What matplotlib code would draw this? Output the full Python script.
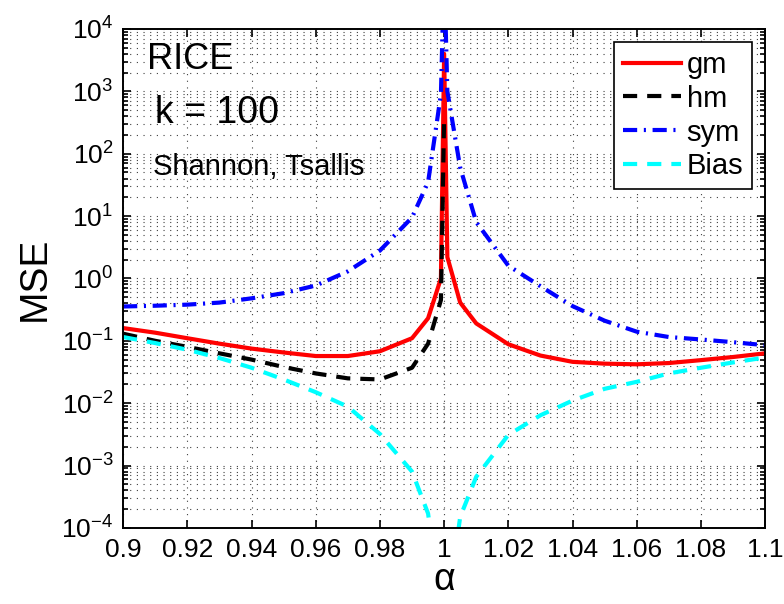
import numpy as np
import matplotlib
matplotlib.use('Agg')
import matplotlib.pyplot as plt
from matplotlib.ticker import LogFormatterMathtext, NullFormatter, FixedLocator

plt.rcParams['font.family'] = ['Liberation Sans', 'DejaVu Sans']
plt.rcParams['mathtext.fontset'] = 'custom'
plt.rcParams['mathtext.rm'] = 'Liberation Sans'
plt.rcParams['mathtext.it'] = 'Liberation Sans:italic'
plt.rcParams['mathtext.bf'] = 'Liberation Sans:bold'

# alpha samples
alpha = [0.90, 0.91, 0.92, 0.93, 0.94, 0.95, 0.96, 0.97, 0.98, 0.99, 0.995, 0.999,
         1.0, 1.001, 1.005, 1.01, 1.02, 1.03, 1.04, 1.05, 1.06, 1.07, 1.08, 1.09, 1.10]
gm = [0.16, 0.135, 0.11, 0.09, 0.075, 0.065, 0.057, 0.057, 0.068, 0.11, 0.23, 1.0,
      4000, 2.2, 0.41, 0.19, 0.088, 0.058, 0.046, 0.043, 0.042, 0.044, 0.049, 0.055, 0.063]
hm = [0.13, 0.10, 0.08, 0.063, 0.05, 0.038, 0.03, 0.025, 0.024, 0.037, 0.09, 0.45,
      400] + [np.nan] * 12
sym = [0.355, 0.365, 0.38, 0.41, 0.48, 0.58, 0.77, 1.3, 2.8, 9.5, 35, 900,
       1e5, 1000, 60, 8, 1.6, 0.75, 0.36, 0.21, 0.14, 0.115, 0.105, 0.095, 0.085]
bias = [0.115, 0.092, 0.072, 0.053, 0.037, 0.024, 0.015, 0.0088, 0.0032, 0.0008, 0.00017, 5e-6,
        np.nan, 5e-6, 0.00015, 0.00066, 0.0031, 0.0064, 0.011, 0.017, 0.022, 0.03, 0.037, 0.045, 0.054]
xticks = [0.9, 0.92, 0.94, 0.96, 0.98, 1.0, 1.02, 1.04, 1.06, 1.08, 1.1]
xticklabels = ['0.9', '0.92', '0.94', '0.96', '0.98', '1', '1.02', '1.04', '1.06', '1.08', '1.1']
yexp = [-4, -3, -2, -1, 0, 1, 2, 3, 4]

fig = plt.figure(figsize=(7.84, 6.04), dpi=100)
ax = fig.add_axes([0.157, 0.126, 0.819, 0.826])

lw = 3
ax.plot(alpha, gm, color='red', lw=lw, label='gm', solid_joinstyle='round')
ax.plot(alpha, hm, color='black', lw=lw, dashes=(3.4, 2.4), label='hm')
ax.plot(alpha, sym, color='blue', lw=lw, dashes=(3.4, 1.6, 0.5, 1.6), label='sym')
ax.plot(alpha, bias, color='cyan', lw=lw, dashes=(3.4, 2.4), label='Bias')

ax.set_yscale('log')
ax.set_xlim(0.9, 1.1)
ax.set_ylim(1e-4, 1e4)
ax.xaxis.set_major_locator(FixedLocator(xticks))
ax.set_xticklabels(xticklabels)
ymaj = [10.0 ** e for e in yexp]
ymin = [m * 10.0 ** e for e in yexp[:-1] for m in range(2, 10)]
ax.yaxis.set_major_locator(FixedLocator(ymaj))
ax.yaxis.set_minor_locator(FixedLocator(ymin))
ax.yaxis.set_major_formatter(LogFormatterMathtext())
ax.yaxis.set_minor_formatter(NullFormatter())

ax.tick_params(which='both', direction='in', top=True, right=True, labelsize=19, width=1.2)
ax.tick_params(which='major', length=6, pad=7)
ax.tick_params(which='minor', length=3.5)
for s in ax.spines.values():
    s.set_linewidth(1.4)

ax.grid(True, which='major', axis='x', color='0.25', lw=0.8, linestyle=(0, (1, 5)))
ax.grid(True, which='both', axis='y', color='0.25', lw=0.8, linestyle=(0, (1, 5)))

ax.set_xlabel('α', fontsize=27, labelpad=0)
ax.set_ylabel('MSE', fontsize=28, labelpad=6)

ax.text(0.037, 0.92, 'RICE', transform=ax.transAxes, fontsize=26, va='baseline')
ax.text(0.05, 0.812, 'k = 100', transform=ax.transAxes, fontsize=27, va='baseline')
ax.text(0.047, 0.707, 'Shannon, Tsallis', transform=ax.transAxes, fontsize=21, va='baseline')

leg = ax.legend(loc='upper right', fontsize=21, handlelength=2.0, handletextpad=0.2,
                labelspacing=0.2, borderpad=0.3, fancybox=False, framealpha=1,
                edgecolor='black', borderaxespad=0.45)
leg.get_frame().set_linewidth(1.2)

fig.savefig('out.png', dpi=100)
